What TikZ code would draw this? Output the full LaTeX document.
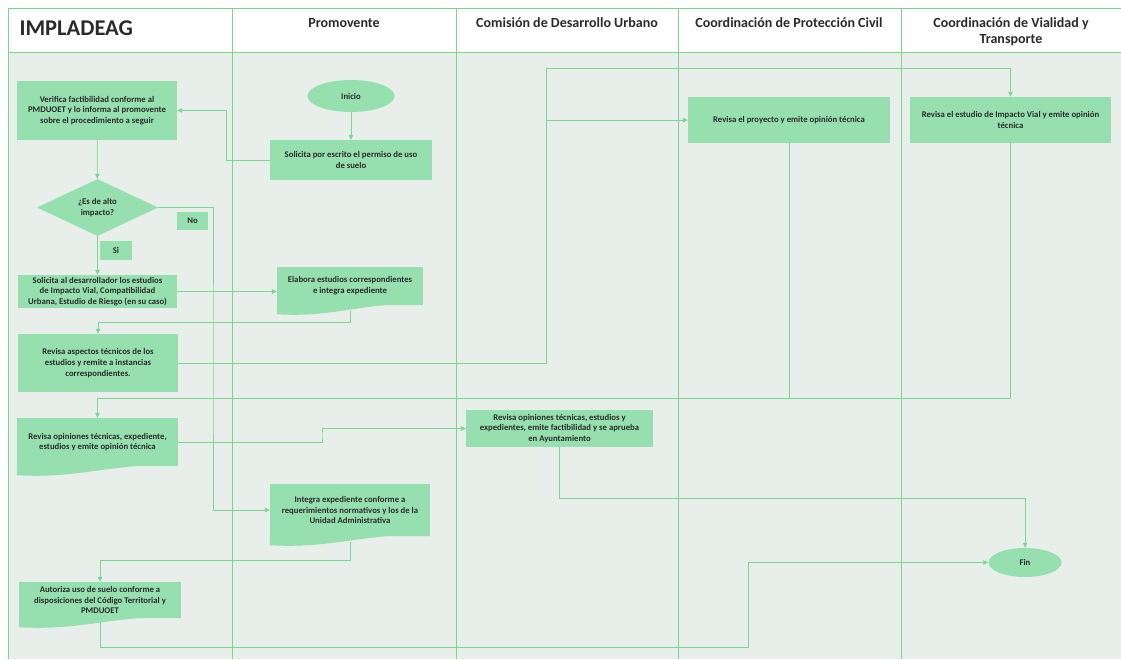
\documentclass[tikz,border=0pt]{standalone}
\usepackage{fontspec}
\setmainfont{Carlito}
\usetikzlibrary{shapes.geometric,arrows.meta,calc}
\definecolor{lane}{HTML}{78D68E}
\definecolor{conn}{HTML}{7BD893}
\definecolor{boxf}{HTML}{96DFAE}
\definecolor{bodyf}{HTML}{E8EFEA}
\definecolor{txt}{HTML}{2A2A2A}
\newcommand\docwave[1]{\fill[boxf] (#1.south west) -- ($(#1.south west)+(0,9)$) .. controls ($(#1.south)+(-15,13)$) and ($(#1.south)+(20,-5)$) .. (#1.south east) -- cycle;}
\begin{document}
\begin{tikzpicture}[x=1pt,y=-1pt,
  box/.style={rectangle, fill=boxf, inner sep=0pt, align=center, text=txt,
    font=\bfseries\fontsize{8.7}{10.7}\selectfont},
  term/.style={ellipse, fill=boxf, inner sep=0pt, text=txt,
    font=\bfseries\fontsize{8.7}{10}\selectfont},
  dec/.style={diamond, fill=boxf, inner sep=0pt, align=center, text=txt,
    font=\bfseries\fontsize{8.7}{10.7}\selectfont},
  lbl/.style={rectangle, fill=boxf, inner sep=0pt, text=txt,
    font=\bfseries\fontsize{8.7}{10}\selectfont},
  head/.style={font=\bfseries\fontsize{14}{16}\selectfont, text=txt, align=center},
  lanel/.style={draw=lane, line width=1pt},
  arr/.style={draw=conn, line width=0.7pt, -{Triangle[length=5pt,width=4.5pt]}},
  ln/.style={draw=conn, line width=0.7pt}]
\useasboundingbox (0,0) rectangle (1121,659);
% background
\fill[white] (0,0) rectangle (1121,659);
\fill[bodyf] (8,52) rectangle (1121,659);
% lanes
\draw[lanel] (8,8) -- (1121,8);
\draw[lanel] (8,52) -- (1121,52);
\foreach \x in {8,232,456,678,901} \draw[lanel] (\x,8) -- (\x,659);
% headers
\node[head, anchor=west, font=\bfseries\fontsize{22.5}{24}\selectfont] (hImp) at (16,28) {IMPLADEAG};
\node[head] (hPro) at (344,23) {Promovente};
\node[head] (hCom) at (567,23) {Comisión de Desarrollo Urbano};
\node[head] (hPC) at (789,23) {Coordinación de Protección Civil};
\node[head] (hVT) at (1011,32) {Coordinación de Vialidad y\\Transporte};
% nodes
\node[box, minimum width=160pt, minimum height=59pt] (verif) at (97,110.5)
  {Verifica factibilidad conforme al\\PMDUOET y lo informa al promovente\\sobre el procedimiento a seguir};
\node[dec, minimum width=121pt, minimum height=55pt] (alto) at (97.5,207.5) {¿Es de alto\\impacto?};
\node[lbl, minimum width=31pt, minimum height=18pt] (no) at (192.5,221) {No};
\node[lbl, minimum width=32pt, minimum height=19pt] (si) at (116,250.5) {Si};
\node[box, minimum width=159pt, minimum height=33pt] (soldes) at (97.5,291.5)
  {Solicita al desarrollador  los estudios\\de Impacto Vial, Compatibilidad\\Urbana, Estudio de Riesgo (en su caso)};
\node[box, minimum width=160pt, minimum height=58pt] (revasp) at (98,363)
  {Revisa aspectos técnicos de los\\estudios y remite a instancias\\correspondientes.};
\node[box, minimum width=161pt, minimum height=48pt] (revop) at (97.5,442)
  {Revisa opiniones técnicas, expediente,\\estudios y emite opinión técnica};
\docwave{revop}
\node[box, minimum width=162pt, minimum height=36pt] (autoriza) at (100,600)
  {Autoriza uso de suelo conforme a\\disposiciones del Código Territorial y\\PMDUOET};
\docwave{autoriza}
\node[term, minimum width=87pt, minimum height=32pt] (inicio) at (351,96) {Inicio};
\node[box, minimum width=162pt, minimum height=40pt] (solesc) at (351,160)
  {Solicita por escrito el permiso de uso\\de suelo};
\node[box, minimum width=146pt, minimum height=38pt] (elabora) at (350,286)
  {Elabora estudios correspondientes\\e integra expediente};
\docwave{elabora}
\node[box, minimum width=160pt, minimum height=52pt] (integra) at (350,510)
  {Integra expediente conforme a\\requerimientos normativos y los de la\\Unidad Administrativa};
\docwave{integra}
\node[box, minimum width=187pt, minimum height=37pt] (comision) at (559.5,428.5)
  {Revisa opiniones técnicas, estudios y\\expedientes, emite factibilidad y se aprueba\\en Ayuntamiento};
\node[box, minimum width=202pt, minimum height=46pt] (revproy) at (789,120)
  {Revisa el proyecto y emite opinión técnica};
\node[box, minimum width=201pt, minimum height=46pt] (revest) at (1010.5,120)
  {Revisa el estudio de Impacto Vial y emite opinión\\técnica};
\node[term, minimum width=73pt, minimum height=29pt] (fin) at (1025,562.5) {Fin};
% helper coordinates
\coordinate (cNo) at (213,360);
\coordinate (c2) at (98,322);
\coordinate (cTop) at (546,68);
\coordinate (c3) at (97.5,398);
\coordinate (c4) at (322,435);
\coordinate (c5) at (559.5,498);
\coordinate (c6) at (100,560);
\coordinate (c7) at (748,647);
% connectors
\draw[arr] (inicio) -- (solesc);
\draw[arr] (solesc.west) -- ++(-43,0) |- (verif.east);
\draw[arr] (verif) -- (alto);
\draw[arr] (alto.east) -| (cNo) |- (integra.west);
\draw[arr] (alto.south) -- (soldes.north);
\draw[arr] (soldes.east) -- (soldes.east -| elabora.west);
\draw[arr] ($(elabora.south)+(0,6)$) |- (c2) -- (revasp.north);
\draw[arr] (revasp.east) -| (cTop) -| (revest.north);
\draw[arr] (cTop |- revproy.west) -- (revproy.west);
\draw[arr] (revest.south) |- (c3) -- (revop.north);
\draw[ln] (revproy.south) -- (revproy.south |- c3);
\draw[arr] (revop.east) -| (c4) |- (comision.west);
\draw[arr] (comision.south) -- (c5) -| (fin.north);
\draw[arr] ($(integra.south)+(0,6)$) |- (c6) -- (autoriza.north);
\draw[arr] ($(autoriza.south)+(0,4)$) |- (c7) |- (fin.west);
\end{tikzpicture}
\end{document}
